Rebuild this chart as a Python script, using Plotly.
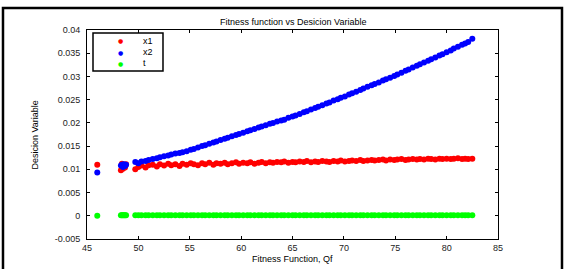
import plotly.graph_objects as go

# Sample fitness values (x axis)
Qf = [
    46.0, 48.3, 48.4, 48.5, 48.6, 48.7, 48.8, 49.7, 50.0, 50.3,
    50.7, 51.0, 51.4, 51.8, 52.1, 52.5, 52.9, 53.2, 53.6, 54.0,
    54.3, 54.7, 55.1, 55.4, 55.8, 56.2, 56.5, 56.9, 57.3, 57.6,
    58.0, 58.4, 58.7, 59.1, 59.5, 59.8, 60.2, 60.6, 60.9, 61.3,
    61.7, 62.0, 62.4, 62.8, 63.1, 63.5, 63.9, 64.2, 64.6, 65.0,
    65.3, 65.7, 66.1, 66.4, 66.8, 67.2, 67.5, 67.9, 68.3, 68.6,
    69.0, 69.4, 69.7, 70.1, 70.5, 70.8, 71.2, 71.6, 71.9, 72.3,
    72.7, 73.0, 73.4, 73.8, 74.1, 74.5, 74.9, 75.2, 75.6, 76.0,
    76.3, 76.7, 77.1, 77.4, 77.8, 78.2, 78.5, 78.9, 79.3, 79.6,
    80.0, 80.4, 80.7, 81.1, 81.5, 81.8, 82.1, 82.5,
]

x1 = [
    0.0110, 0.0098, 0.0112, 0.0101, 0.0109, 0.0104, 0.0111, 0.0100, 0.0105, 0.0108,
    0.0104, 0.0109, 0.0110, 0.0106, 0.0111, 0.0108, 0.0112, 0.0109, 0.0111, 0.0107,
    0.0112, 0.0110, 0.0113, 0.0111, 0.0109, 0.0113, 0.0111, 0.0114, 0.0110, 0.0113,
    0.0112, 0.0114, 0.0111, 0.0113, 0.0115, 0.0112, 0.0114, 0.0113, 0.0115, 0.0112,
    0.0114, 0.0116, 0.0113, 0.0115, 0.0114, 0.0116, 0.0115, 0.0117, 0.0114, 0.0116,
    0.0115, 0.0117, 0.0116, 0.0118, 0.0115, 0.0117, 0.0116, 0.0118, 0.0117, 0.0116,
    0.0118, 0.0117, 0.0119, 0.0117, 0.0118, 0.0119, 0.0118, 0.0120, 0.0118, 0.0119,
    0.0120, 0.0119, 0.0120, 0.0121, 0.0119, 0.0121, 0.0120, 0.0121, 0.0122, 0.0120,
    0.0121, 0.0122, 0.0121, 0.0122, 0.0121, 0.0123, 0.0122, 0.0121, 0.0123, 0.0122,
    0.0123, 0.0122, 0.0123, 0.0124, 0.0122, 0.0123, 0.0122, 0.0123,
]

x2 = [
    0.0093, 0.0108, 0.0110, 0.0105, 0.0111, 0.0107, 0.0110, 0.0116, 0.0113, 0.0117,
    0.0118, 0.0120, 0.0122, 0.0124, 0.0126, 0.0128, 0.0130, 0.0132, 0.0134, 0.0135,
    0.0137, 0.0139, 0.0142, 0.0144, 0.0147, 0.0150, 0.0152, 0.0155, 0.0158, 0.0160,
    0.0163, 0.0166, 0.0168, 0.0171, 0.0174, 0.0176, 0.0179, 0.0182, 0.0184, 0.0187,
    0.0190, 0.0192, 0.0195, 0.0198, 0.0200, 0.0203, 0.0205, 0.0207, 0.0211, 0.0214,
    0.0216, 0.0219, 0.0223, 0.0225, 0.0229, 0.0232, 0.0235, 0.0238, 0.0242, 0.0244,
    0.0248, 0.0251, 0.0254, 0.0257, 0.0261, 0.0264, 0.0267, 0.0271, 0.0274, 0.0278,
    0.0281, 0.0284, 0.0287, 0.0291, 0.0294, 0.0297, 0.0301, 0.0304, 0.0308, 0.0312,
    0.0315, 0.0319, 0.0323, 0.0326, 0.0330, 0.0334, 0.0337, 0.0341, 0.0345, 0.0348,
    0.0352, 0.0356, 0.0360, 0.0364, 0.0368, 0.0371, 0.0374, 0.0381,
]

t = [
    0.0000, 0.0001, 0.0001, 0.0001, 0.0001, 0.0001, 0.0001, 0.0001, 0.0001, 0.0001,
    0.0001, 0.0001, 0.0001, 0.0001, 0.0001, 0.0001, 0.0001, 0.0001, 0.0001, 0.0001,
    0.0001, 0.0001, 0.0001, 0.0001, 0.0001, 0.0001, 0.0001, 0.0001, 0.0001, 0.0001,
    0.0001, 0.0001, 0.0001, 0.0001, 0.0001, 0.0001, 0.0001, 0.0001, 0.0001, 0.0001,
    0.0001, 0.0001, 0.0001, 0.0001, 0.0001, 0.0001, 0.0001, 0.0001, 0.0001, 0.0001,
    0.0001, 0.0001, 0.0001, 0.0001, 0.0001, 0.0001, 0.0001, 0.0001, 0.0001, 0.0001,
    0.0001, 0.0001, 0.0001, 0.0001, 0.0001, 0.0001, 0.0001, 0.0001, 0.0001, 0.0001,
    0.0001, 0.0001, 0.0001, 0.0001, 0.0001, 0.0001, 0.0001, 0.0001, 0.0001, 0.0001,
    0.0001, 0.0001, 0.0001, 0.0001, 0.0001, 0.0001, 0.0001, 0.0001, 0.0001, 0.0001,
    0.0001, 0.0001, 0.0001, 0.0001, 0.0001, 0.0001, 0.0001, 0.0001,
]

series_names = ["x1", "x2", "t"]
series_colors = ["#ff0000", "#0000ff", "#00ff00"]

x_ticks = [45, 50, 55, 60, 65, 70, 75, 80, 85]
y_ticks = [-0.005, 0, 0.005, 0.01, 0.015, 0.02, 0.025, 0.03, 0.035, 0.04]
y_tick_labels = ["-0.005", "0", "0.005", "0.01", "0.015", "0.02", "0.025", "0.03", "0.035", "0.04"]

FONT = "Liberation Sans, Arial, sans-serif"

fig = go.Figure()
for name, ys, col in zip(series_names, [x1, x2, t], series_colors):
    fig.add_trace(go.Scatter(
        x=Qf, y=ys, mode="markers", name=name, showlegend=False,
        marker=dict(color=col, size=6, line=dict(width=0)),
    ))

axis_common = dict(
    showline=True, linecolor="black", linewidth=1, mirror="ticks",
    ticks="inside", ticklen=3, tickcolor="black", tickwidth=1,
    showgrid=False, zeroline=False,
    tickfont=dict(family=FONT, size=9, color="#222"),
)

fig.update_xaxes(range=[45, 85], tickvals=x_ticks, ticklabelstandoff=0, **axis_common)
fig.update_yaxes(range=[-0.005, 0.04], tickvals=y_ticks, ticktext=y_tick_labels,
                 ticklabelstandoff=4, **axis_common)

# custom compact legend (MATLAB style)
legend_rows_y = [0.9474, 0.8947, 0.8421]
annotations = [
    dict(text="Fitness function vs Desicion Variable", xref="paper", yref="paper",
         x=0.5, y=1.0 + 8 / 209, xanchor="center", yanchor="middle", showarrow=False,
         font=dict(family=FONT, size=9, color="black")),
    dict(text="Fitness Function, Qf", xref="paper", yref="paper",
         x=0.5, y=-20 / 209, xanchor="center", yanchor="middle", showarrow=False,
         font=dict(family=FONT, size=9, color="black")),
    dict(text="Desicion Variable", xref="paper", yref="paper",
         x=-53 / 411, y=0.5, xanchor="center", yanchor="middle", showarrow=False,
         textangle=-90,
         font=dict(family="Liberation Sans Narrow, Arial Narrow, " + FONT, size=9, color="black")),
]
for name, col, yy in zip(series_names, series_colors, legend_rows_y):
    annotations.append(dict(text="●", xref="paper", yref="paper", x=0.0827, y=yy,
                            xanchor="center", yanchor="middle", showarrow=False,
                            font=dict(family="DejaVu Sans", size=6, color=col)))
    annotations.append(dict(text=name, xref="paper", yref="paper", x=0.1314, y=yy,
                            xanchor="left", yanchor="middle", showarrow=False,
                            font=dict(family=FONT, size=9, color="black")))

fig.update_layout(
    width=564, height=269,
    margin=dict(l=87, r=66, t=30, b=30),
    paper_bgcolor="white", plot_bgcolor="white",
    showlegend=False,
    shapes=[
        dict(type="rect", xref="paper", yref="paper",
             x0=-0.2044, x1=1.1557, y0=-0.2, y1=1.1053,
             line=dict(color="black", width=2.5)),
        dict(type="rect", xref="paper", yref="paper",
             x0=0.0146, x1=0.1849, y0=0.8038, y1=0.9856,
             line=dict(color="black", width=1.5), fillcolor="white", layer="above"),
    ],
    annotations=annotations,
)

fig.write_html("out.html", config={"displayModeBar": False},
               post_script="document.body.style.margin='0';")
